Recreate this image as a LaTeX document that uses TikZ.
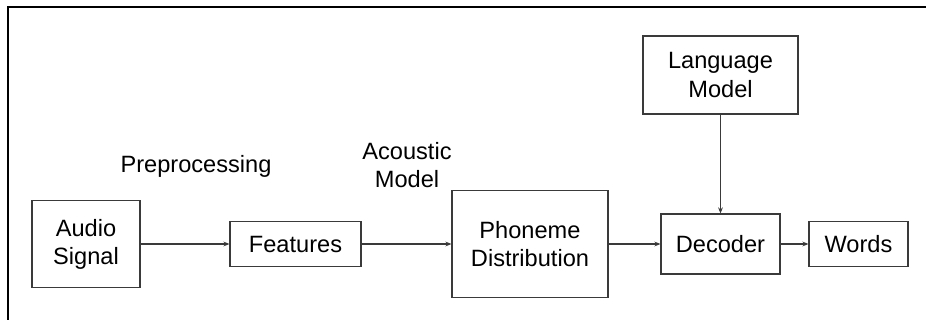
\documentclass[tikz,border=0pt]{standalone}
\usepackage{fontspec}
\setmainfont{Liberation Sans}
\usetikzlibrary{arrows.meta}
\definecolor{linegray}{HTML}{3A3A3A}

\begin{document}
\begin{tikzpicture}[
  x=0.5pt, y=-0.5pt,
  blk/.style={draw=linegray, line width=0.6pt, fill=white, align=center, inner sep=0pt,
    font=\fontsize{11.8}{14}\selectfont},
  lbl/.style={align=center, inner sep=0pt, font=\fontsize{11.8}{14}\selectfont},
  >={Stealth[length=3pt, width=2.4pt]}
]
\useasboundingbox (0,0) rectangle (926,320);
% outer frame, cut off at the right and bottom
\draw[line width=1.1pt] (8,320) -- (8,7) -- (926,7);

\node[blk, minimum width=54pt, minimum height=43.5pt]   (audio) at (86,244)    {Audio\\Signal};
\node[blk, minimum width=65.5pt, minimum height=22.5pt] (feat)  at (295.5,244) {Features};
\node[blk, minimum width=78pt, minimum height=53.5pt]   (phon)  at (530,244)   {Phoneme\\Distribution};
\node[blk, minimum width=59.5pt, minimum height=30pt]   (dec)   at (720.5,244) {Decoder};
\node[blk, minimum width=49.5pt, minimum height=22.5pt] (words) at (858.5,244) {Words};
\node[blk, minimum width=77.5pt, minimum height=39pt]   (lm)    at (720.5,75)  {Language\\Model};

\node[lbl] (pre) at (196,166) {Preprocessing};
\node[lbl] (am)  at (407,165) {Acoustic\\Model};

% main row
\draw[->, linegray, line width=0.6pt] (audio) -- (feat);
\draw[->, linegray, line width=0.6pt] (feat) -- (phon);
\draw[->, linegray, line width=0.6pt] (phon) -- (dec);
\draw[->, linegray, line width=0.6pt] (dec) -- (words);
% language model feeds the decoder
\draw[->, linegray, line width=0.6pt] (lm) -- (dec);
\end{tikzpicture}
\end{document}
